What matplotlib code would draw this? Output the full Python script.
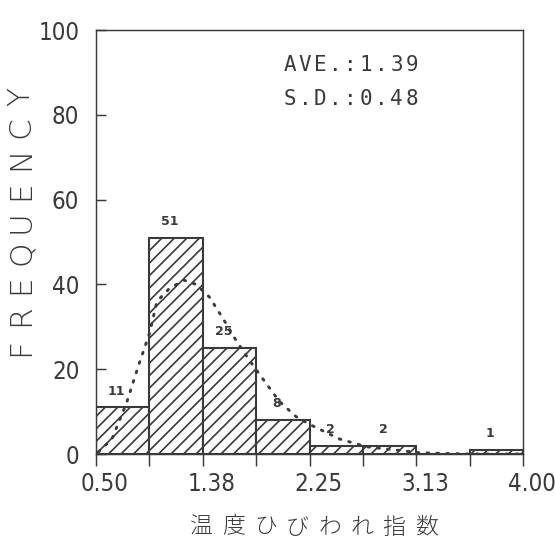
import numpy as np
import matplotlib
matplotlib.use("Agg")
import matplotlib.pyplot as plt
from matplotlib.transforms import ScaledTranslation

# ---- data ----
bin_edges = [0.5, 0.9375, 1.375, 1.8125, 2.25, 2.6875, 3.125, 3.5625, 4.0]
counts = [11, 51, 25, 8, 2, 2, 0, 1]
count_labels = ["11", "51", "25", "8", "2", "2", "", "1"]
curve_x = [0.52, 0.63, 0.75, 0.85, 0.94, 1.0, 1.1, 1.22, 1.32, 1.43, 1.54,
           1.65, 1.76, 1.84, 2.0, 2.14, 2.25, 2.5, 2.72, 2.91, 3.15, 3.56, 4.0]
curve_y = [0.5, 3.5, 12, 21, 28.6, 36, 39, 41, 40, 37, 32,
           26.7, 22, 18.8, 12.5, 8.8, 7, 3.5, 1.7, 1.1, 0.3, 0, 0]
xtick_vals = [0.5, 1.375, 2.25, 3.125, 4.0]
xtick_labels = ["0.50", "1.38", "2.25", "3.13", "4.00"]
ytick_vals = [0, 20, 40, 60, 80, 100]
stats_lines = ["AVE.:1.39", "S.D.:0.48"]
ylabel_text = "FREQUENCY"
xlabel_text = "温度ひびわれ指数"

INK = "#3a3a3a"
plt.rcParams["hatch.linewidth"] = 0.8
plt.rcParams["hatch.color"] = INK

W, H = 555, 540
fig = plt.figure(figsize=(W / 150, H / 150), dpi=150)
ax = fig.add_axes([96 / W, 1 - 454 / H, (523 - 96) / W, (454 - 30) / H])

lefts = bin_edges[:-1]
widths = [b - a for a, b in zip(bin_edges[:-1], bin_edges[1:])]
ax.bar(lefts, counts, width=widths, align="edge", facecolor="white",
       edgecolor=INK, linewidth=1.0, hatch="////", zorder=2)

ax.plot(curve_x, curve_y, linestyle=(0, (0.6, 2.8)), color=INK, linewidth=1.4,
        dash_capstyle="round", zorder=3)

for l, w, c, t in zip(lefts, widths, counts, count_labels):
    if t:
        ax.text(l + w / 2 - 0.05, c + 2.3, t, ha="center", va="bottom",
                fontsize=6, fontweight="bold", color=INK, zorder=4)

ax.set_xlim(0.5, 4.0)
ax.set_ylim(0, 100)

tick_kw = dict(fontsize=11.5, family="DejaVu Sans", fontstretch="condensed",
               color=INK)
ax.set_xticks(xtick_vals)
ax.set_xticklabels(xtick_labels, **tick_kw)
ax.set_xticks([e for e in bin_edges if e not in xtick_vals], minor=True)
ax.tick_params(axis="x", which="both", direction="out", length=5.8, width=0.7,
               color=INK, pad=3.0)
ax.set_yticks(ytick_vals)
ax.set_yticklabels([str(v) for v in ytick_vals], **tick_kw)
ax.tick_params(axis="y", direction="in", length=4.8, width=0.7, color=INK, pad=8)

off = ScaledTranslation(9 / 150, 0, fig.dpi_scale_trans)
for lab in ax.get_xticklabels():
    lab.set_transform(lab.get_transform() + off)

for s in ax.spines.values():
    s.set_color(INK)
    s.set_linewidth(0.7)

# stats text, monospaced spacing
for i, line in enumerate(stats_lines):
    py = 65 + i * 34
    for j, ch in enumerate(line):
        fig.text((283 + 7 + j * 15.2) / W, 1 - py / H, ch, ha="center",
                 va="center", fontsize=10, family="DejaVu Sans Mono", color=INK)

# y label spaced vertical
n = len(ylabel_text)
for i, ch in enumerate(ylabel_text):
    py = 347 - i * (347 - 96) / (n - 1)
    fig.text(21 / W, 1 - py / H, ch, rotation=90, ha="center", va="center",
             fontsize=15, fontweight="light", family="DejaVu Sans", color=INK)

# x label spaced
n = len(xlabel_text)
for i, ch in enumerate(xlabel_text):
    px = 201 + i * (426 - 201) / (n - 1)
    fig.text(px / W, 1 - 527 / H, ch, ha="center", va="center", fontsize=11,
             fontweight="light", family="Noto Sans CJK JP", color=INK)

fig.savefig("out.png", dpi=150)
